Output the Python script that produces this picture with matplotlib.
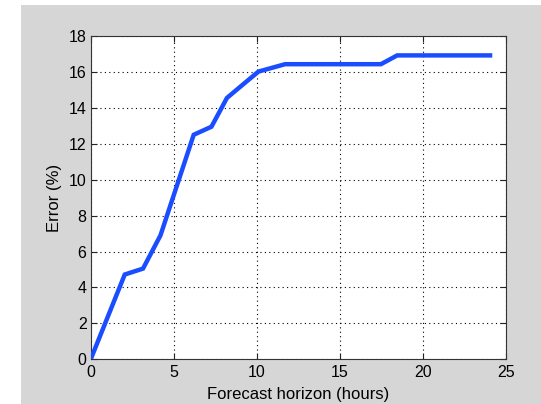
import matplotlib
matplotlib.use("Agg")
import matplotlib.pyplot as plt
from matplotlib.patches import Rectangle

# forecast error against horizon
horizon_hours = [0, 2.05, 3.15, 4.2, 6.2, 7.27, 8.2, 9.1, 10.1, 11.7, 17.47, 18.45, 24.04]
error_pct = [0, 4.72, 5.05, 6.9, 12.5, 12.95, 14.55, 15.25, 16.02, 16.43, 16.43, 16.92, 16.92]

x_ticks = [0, 5, 10, 15, 20, 25]
y_ticks = [0, 2, 4, 6, 8, 10, 12, 14, 16, 18]

plt.rcParams['font.family'] = ['Liberation Sans', 'DejaVu Sans']
plt.rcParams['font.size'] = 11

W, H = 541, 404
fig = plt.figure(figsize=(W / 100, H / 100), dpi=100, facecolor='white')

# grey panel behind the axes, offset from the top-left corner
fig.add_artist(Rectangle((21 / W, 0), 1 - 21 / W, 1 - 5 / H,
                         transform=fig.transFigure, facecolor='#d6d6d6',
                         edgecolor='none', zorder=-10))

left, right, top, bottom = 90.7, 506, 36, 359.3
ax = fig.add_axes([left / W, (H - bottom) / H, (right - left) / W, (bottom - top) / H])
ax.set_zorder(1)
ax.set_facecolor('white')

ax.plot(horizon_hours, error_pct, color='#1a4dff', lw=3.2,
        solid_joinstyle='miter', zorder=3)

ax.set_xlim(0, 25)
ax.set_ylim(0, 18)
ax.set_xticks(x_ticks)
ax.set_yticks(y_ticks)

ax.grid(True, color='black', linestyle=(0, (1, 3)), linewidth=0.8)
ax.tick_params(direction='in', length=4, width=0.8, color='#222222',
               top=True, right=True, labelsize=11.5)
ax.tick_params(axis='x', pad=4)
ax.tick_params(axis='y', pad=3)
for sp in ax.spines.values():
    sp.set_color('#333333')
    sp.set_linewidth(0.8)

ax.set_xlabel('Forecast horizon (hours)', fontsize=12, labelpad=5)
ax.set_ylabel('Error (%)', fontsize=12, labelpad=5)

fig.savefig('out.png', dpi=100)
